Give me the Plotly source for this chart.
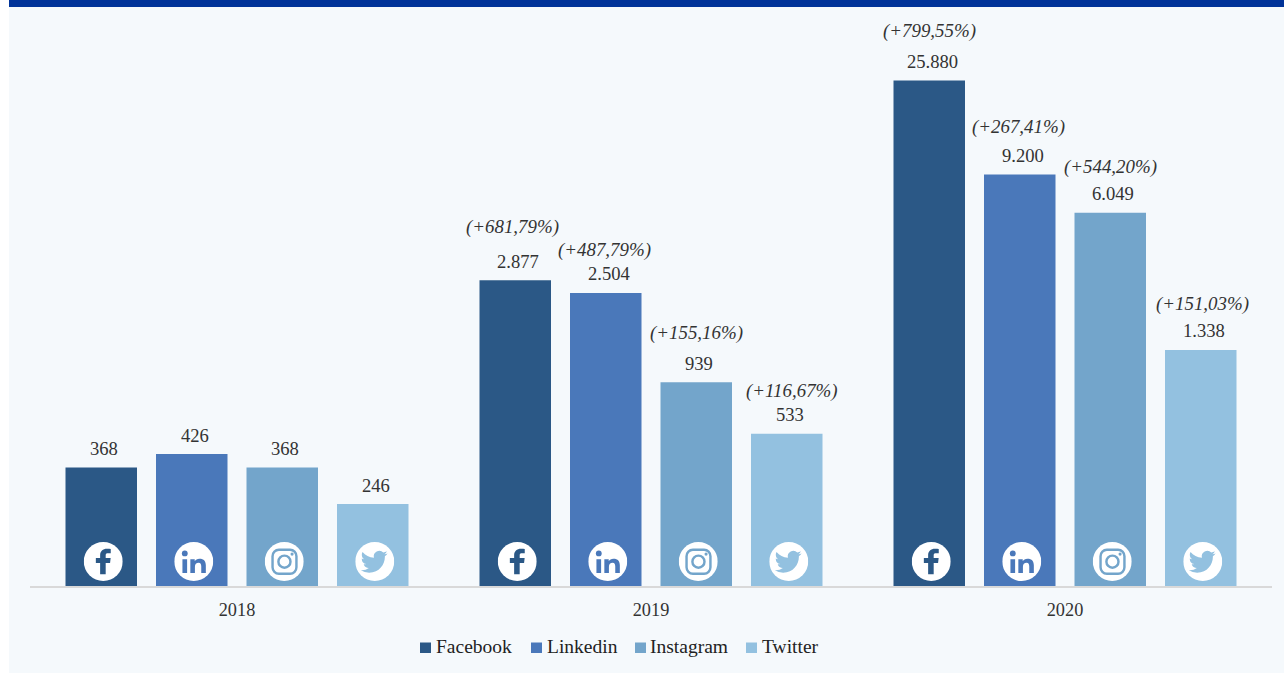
import base64
import math
import plotly.graph_objects as go

years = ["2018", "2019", "2020"]
networks = ["Facebook", "Linkedin", "Instagram", "Twitter"]
facebook = [368, 2877, 25880]
linkedin = [426, 2504, 9200]
instagram = [368, 939, 6049]
twitter = [246, 533, 1338]
facebook_pct = [None, "(+681,79%)", "(+799,55%)"]
linkedin_pct = [None, "(+487,79%)", "(+267,41%)"]
instagram_pct = [None, "(+155,16%)", "(+544,20%)"]
twitter_pct = [None, "(+116,67%)", "(+151,03%)"]

series_values = [facebook, linkedin, instagram, twitter]
series_pct = [facebook_pct, linkedin_pct, instagram_pct, twitter_pct]
colors = ["#2B5886", "#4A78BA", "#73A5CB", "#93C1E0"]
pct_gaps = [[None, 53, 49], [None, 43, 48], [None, 49, 46], [None, 43, 46]]
pct_nudges = [[0, -2.5, 0], [0, -1, -1], [0, 0, 0], [0, 5, 1.5]]
legend_swatch_px = [420, 531, 635, 746]
legend_text_px = [435, 546, 649, 761]

W, H = 1284, 673
ML, MR, MT, MB = 30, 12, 10, 87
plot_w = W - ML - MR
plot_h = H - MT - MB
cat_px = plot_w / 3
slot = 0.2186
SERIF = "Liberation Serif"
TEXT = "#333333"


def px(x):
    return (x - ML) / plot_w


def py(y):
    return (H - MB - y) / plot_h


GLYPHS = [
    '<path fill="{c}" d="M22.5 33V21.5H27L27.6 16.5H22.5V13.6C22.5 12.1 23.2 11.5 24.7 11.5H27.7V7.3C26.8 7.2 25.4 7 23.8 7C19.6 7 16.8 9.5 16.8 13.6V16.5H12.4V21.5H16.8V33Z"/>',
    '<circle fill="{c}" cx="10.8" cy="11.7" r="3"/><path fill="{c}" d="M8.4 17.6H13.2V31.8H8.4ZM16.5 17.6H21V19.7C21.9 18.2 23.6 17.2 25.8 17.2C30.5 17.2 32.4 19.9 32.4 24.2V31.8H27.7V25.2C27.7 22.8 27 21.3 25 21.3C22.6 21.3 21.2 22.9 21.2 25.3V31.8H16.5Z"/>',
    '<g fill="none" stroke="{c}" stroke-width="2.5"><rect x="8" y="8" width="24.5" height="24.5" rx="6.5"/><circle cx="20.2" cy="20.2" r="6.2"/></g><circle fill="{c}" cx="28" cy="12.4" r="1.6"/>',
    '<g transform="translate(5.6 6.5) scale(1.15)"><path fill="{c}" d="M23.953 4.57a10 10 0 01-2.825.775 4.958 4.958 0 002.163-2.723c-.951.555-2.005.959-3.127 1.184a4.92 4.92 0 00-8.384 4.482C7.69 8.095 4.067 6.13 1.64 3.162a4.822 4.822 0 00-.666 2.475c0 1.71.87 3.213 2.188 4.096a4.904 4.904 0 01-2.228-.616v.06a4.923 4.923 0 003.946 4.827 4.996 4.996 0 01-2.212.085 4.936 4.936 0 004.604 3.417 9.867 9.867 0 01-6.102 2.105c-.39 0-.779-.023-1.17-.067a13.995 13.995 0 007.557 2.209c9.053 0 13.998-7.496 13.998-13.985 0-.21 0-.42-.015-.63A9.935 9.935 0 0024 4.59z"/></g>',
]


def icon_uri(glyph, color):
    svg = ('<svg xmlns="http://www.w3.org/2000/svg" width="156" height="156" viewBox="0 0 40 40">'
           '<circle cx="20" cy="20" r="20" fill="#ffffff"/>' + glyph.format(c=color) + '</svg>')
    return "data:image/svg+xml;base64," + base64.b64encode(svg.encode()).decode()


fig = go.Figure()
for name, vals, col in zip(networks, series_values, colors):
    fig.add_bar(name=name, x=years, y=vals, marker=dict(color=col, line=dict(width=0)), hoverinfo="x+y+name")

annotations, images = [], []
shapes = [
    dict(type="rect", xref="paper", yref="paper", x0=px(9), x1=px(W), y0=py(H), y1=py(0),
         fillcolor="#F5F9FC", line_width=0, layer="below"),
    dict(type="rect", xref="paper", yref="paper", x0=px(9), x1=px(W), y0=py(7), y1=py(0),
         fillcolor="#003399", line_width=0, layer="below"),
]
for s, (vals, pcts, gaps, nudges, col) in enumerate(zip(series_values, series_pct, pct_gaps, pct_nudges, colors)):
    dx = (s - 1.5) * slot
    for c, v in enumerate(vals):
        lab = f"{v:,}".replace(",", ".")
        annotations.append(dict(x=c + dx, y=math.log10(v), xref="x", yref="y", text=lab, showarrow=False,
                                xshift=3, yshift=19, yanchor="middle",
                                font=dict(family=SERIF, size=18.6, color=TEXT)))
        if pcts[c]:
            annotations.append(dict(x=c + dx, y=math.log10(v), xref="x", yref="y", text=f"<i>{pcts[c]}</i>",
                                    showarrow=False, xshift=nudges[c], yshift=gaps[c], yanchor="middle",
                                    font=dict(family=SERIF, size=18.9, color=TEXT)))
        images.append(dict(source=icon_uri(GLYPHS[s], col), xref="x", yref="paper", x=c + dx + 2 / cat_px,
                           y=py(561.5), sizex=39 / cat_px, sizey=39 / plot_h,
                           xanchor="center", yanchor="middle", sizing="stretch", layer="above"))

for name, col, sx, tx in zip(networks, colors, legend_swatch_px, legend_text_px):
    shapes.append(dict(type="rect", xref="paper", yref="paper", x0=px(sx), x1=px(sx + 11), y0=py(653), y1=py(642.5),
                       fillcolor=col, line_width=0, layer="above"))
    annotations.append(dict(xref="paper", yref="paper", x=px(tx), y=py(646), text=name, showarrow=False,
                            xanchor="left", yanchor="middle", xshift=-1,
                            font=dict(family=SERIF, size=19.5, color="#222222")))

fig.update_layout(
    width=W, height=H, autosize=False,
    margin=dict(l=ML, r=MR, t=MT, b=MB, pad=0),
    paper_bgcolor="#ffffff", plot_bgcolor="rgba(0,0,0,0)",
    barmode="group", bargap=0.1256, bargroupgap=0.21, showlegend=False,
    font=dict(family=SERIF, size=18, color=TEXT),
    xaxis=dict(type="category", range=[-0.5, 2.5], showline=True, linecolor="#D9D9D9", linewidth=1.5,
               ticks="", showgrid=False, zeroline=False, ticklabelstandoff=6,
               tickfont=dict(family=SERIF, size=18.3, color=TEXT)),
    yaxis=dict(type="log", range=[2, 4.749], visible=False, showgrid=False),
    shapes=shapes, annotations=annotations, images=images,
)
fig.write_html("out.html", default_width="1284px", default_height="673px",
               config=dict(displayModeBar=False, responsive=False),
               post_script="document.body.style.margin='0';document.body.style.overflow='hidden';")
